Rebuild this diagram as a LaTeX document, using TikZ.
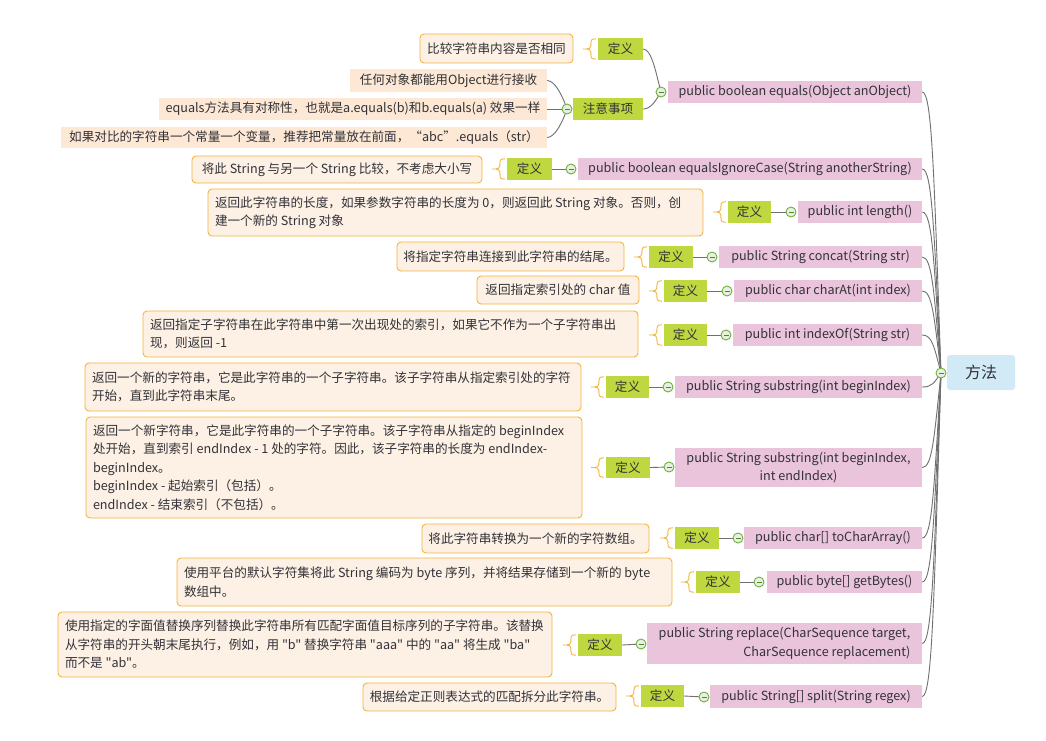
\documentclass[tikz,border=0pt]{standalone}
\usepackage{fontspec}
\setmainfont{Noto Sans CJK SC}[Ligatures=TeXOff]
\usetikzlibrary{calc}
\pgfdeclarelayer{bg}
\pgfsetlayers{bg,main}
\definecolor{methpink}{RGB}{234,196,219}
\definecolor{defgreen}{RGB}{191,216,64}
\definecolor{descfill}{RGB}{253,240,228}
\definecolor{descdraw}{RGB}{245,180,60}
\definecolor{notefill}{RGB}{252,232,212}
\definecolor{rootfill}{RGB}{210,234,246}
\definecolor{txt}{RGB}{50,50,56}
\definecolor{circgreen}{RGB}{110,176,60}
\definecolor{circfill}{RGB}{232,240,226}
\definecolor{lineg}{RGB}{112,112,112}
\tikzset{
 basetxt/.style={inner sep=0pt, text=txt, font=\fontsize{12.6}{18.5}\selectfont},
 meth/.style={basetxt, fill=methpink},
 defbox/.style={basetxt, fill=defgreen},
 desc/.style={basetxt, fill=descfill, draw=descdraw, rounded corners=4pt, line width=0.9pt},
 notebox/.style={basetxt, fill=notefill},
 rootbox/.style={basetxt, fill=rootfill, rounded corners=3pt, font=\fontsize{16}{20}\selectfont},
 minuscirc/.style={circle, draw=circgreen, line width=0.9pt, fill=circfill, minimum size=10pt, inner sep=0pt,
   path picture={\draw[circgreen!75!black, line width=1pt] ($(path picture bounding box.west)+(2.5,0)$) -- ($(path picture bounding box.east)+(-2.5,0)$);}},
 connline/.style={draw=lineg, line width=0.9pt},
 brc/.style={draw=descdraw, line width=0.9pt},
}
\newcommand\nbox[7]{\node[#1, minimum width={(#5-#3)*1pt}, minimum height={(#6-#4)*1pt}] (#2) at ({(#3+#5)/2},{(#4+#6)/2}) {#7};}
\newcommand\nboxl[7]{\pgfmathsetmacro\twid{#5-#3-14}\node[#1, align=flush left, text width=\twid pt, minimum width={(#5-#3)*1pt}, minimum height={(#6-#4)*1pt}] (#2) at ({(#3+#5)/2},{(#4+#6)/2}) {#7};}
\newcommand\ncirc[3]{\node[minuscirc] (#1) at (#2,#3) {};}
\newcommand\brcfor[1]{%
 \draw[brc] ($(#1.north west)+(-2,1)$) .. controls +(-5,0) and +(0,-3) .. ($(#1.north west)+(-7,6)$) -- ($(#1.west)+(-7,-3)$) .. controls +(0,2) and +(2,0) .. ($(#1.west)+(-11,0)$) -- ($(#1.west)+(-15,0)$);
 \draw[brc] ($(#1.west)+(-11,0)$) .. controls +(2,0) and +(0,-2) .. ($(#1.west)+(-7,3)$) -- ($(#1.south west)+(-7,-6)$) .. controls +(0,3) and +(-5,0) .. ($(#1.south west)+(-2,-1)$);
}
\begin{document}
\begin{tikzpicture}[x=1pt,y=-1pt]
\begin{pgfonlayer}{bg}
\fill[white] (0,0) rectangle (1046,740);
\end{pgfonlayer}
\useasboundingbox (0,0) rectangle (1046,740);
% root
\nbox{rootbox}{root}{947}{355}{1015}{390}{方法}
\ncirc{rc}{941}{373}
% methods
\nbox{meth}{m1}{668}{81}{922}{103}{public boolean equals(Object anObject)}
\nbox{meth}{m2}{578}{158}{922}{180}{public boolean equalsIgnoreCase(String anotherString)}
\nbox{meth}{m3}{798}{201}{922}{223}{public int length()}
\nbox{meth}{m4}{719}{246}{922}{268}{public String concat(String str)}
\nbox{meth}{m5}{734}{280}{922}{302}{public char charAt(int index)}
\nbox{meth}{m6}{733}{324}{922}{346}{public int indexOf(String str)}
\nbox{meth}{m7}{675}{376}{922}{398}{public String substring(int beginIndex)}
\nbox{meth,align=center}{m8}{675}{448}{922}{487}{public String substring(int beginIndex,\\ int endIndex)}
\nbox{meth}{m9}{744}{527}{922}{549}{public char[] toCharArray()}
\nbox{meth}{m10}{767}{571}{922}{593}{public byte[] getBytes()}
\nbox{meth,align=right}{m11}{647}{623}{922}{664}{public String replace(CharSequence target,\\CharSequence replacement)}
\nbox{meth}{m12}{710}{685}{922}{708}{public String[] split(String regex)}
% circles
\ncirc{c1}{661}{92}
\ncirc{cn}{567}{109}
\ncirc{c2}{571}{169}
\ncirc{c3}{791}{212}
\ncirc{c4}{712}{257}
\ncirc{c5}{727}{291}
\ncirc{c6}{726}{335}
\ncirc{c7}{668}{387}
\ncirc{c8}{669}{467}
\ncirc{c9}{738}{538}
\ncirc{c10}{759}{582}
\ncirc{c11}{641}{644}
\ncirc{c12}{704}{697}
% definition boxes
\nbox{defbox}{d1}{598}{38}{643}{60}{定义}
\nbox{defbox}{dn}{573}{98}{643}{120}{注意事项}
\nbox{defbox}{d2}{507}{158}{552}{180}{定义}
\nbox{defbox}{d3}{728}{201}{771}{223}{定义}
\nbox{defbox}{d4}{649}{246}{693}{268}{定义}
\nbox{defbox}{d5}{664}{280}{707}{302}{定义}
\nbox{defbox}{d6}{664}{324}{707}{346}{定义}
\nbox{defbox}{d7}{606}{376}{649}{398}{定义}
\nbox{defbox}{d8}{606}{457}{650}{478}{定义}
\nbox{defbox}{d9}{675}{527}{719}{549}{定义}
\nbox{defbox}{d10}{696}{571}{740}{593}{定义}
\nbox{defbox}{d11}{578}{634}{622}{656}{定义}
\nbox{defbox}{d12}{641}{685}{684}{707}{定义}
% notes
\nbox{notebox}{n1}{350}{69}{547}{92}{任何对象都能用Object进行接收}
\nbox{notebox}{n2}{159}{98}{547}{120}{equals方法具有对称性，也就是a.equals(b)和b.equals(a) 效果一样}
\nbox{notebox}{n3}{61}{127}{547}{148}{如果对比的字符串一个常量一个变量，推荐把常量放在前面，“abc”.equals（str）}
% descriptions
\nbox{desc}{e1}{420}{34}{573}{63}{比较字符串内容是否相同}
\nbox{desc}{e2}{192}{156}{482}{183}{将此 String 与另一个 String 比较，不考虑大小写}
\nboxl{desc}{e3}{208}{189}{703}{236}{返回此字符串的长度，如果参数字符串的长度为 0，则返回此 String 对象。否则，创\\建一个新的 String 对象}
\nbox{desc}{e4}{397}{242}{624}{271}{将指定字符串连接到此字符串的结尾。}
\nbox{desc}{e5}{477}{276}{639}{304}{返回指定索引处的 char 值}
\nboxl{desc}{e6}{143}{311}{638}{357}{返回指定子字符串在此字符串中第一次出现处的索引，如果它不作为一个子字符串出\\现，则返回 -1}
\nboxl{desc}{e7}{85}{363}{581}{411}{返回一个新的字符串，它是此字符串的一个子字符串。该子字符串从指定索引处的字符\\开始，直到此字符串末尾。}
\nboxl{desc}{e8}{86}{417}{582}{518}{返回一个新字符串，它是此字符串的一个子字符串。该子字符串从指定的 beginIndex\\处开始，直到索引 endIndex - 1 处的字符。因此，该子字符串的长度为 endIndex-\\beginIndex。\\beginIndex - 起始索引（包括）。\\endIndex - 结束索引（不包括）。}
\nbox{desc}{e9}{422}{524}{649}{553}{将此字符串转换为一个新的字符数组。}
\nboxl{desc}{e10}{177}{558}{672}{606}{使用平台的默认字符集将此 String 编码为 byte 序列，并将结果存储到一个新的 byte\\数组中。}
\nboxl{desc}{e11}{58}{612}{552}{677}{使用指定的字面值替换序列替换此字符串所有匹配字面值目标序列的子字符串。该替换\\从字符串的开头朝末尾执行，例如，用 "b" 替换字符串 "aaa" 中的 "aa" 将生成 "ba"\\而不是 "ab"。}
\nbox{desc}{e12}{363}{683}{616}{711}{根据给定正则表达式的匹配拆分此字符串。}
% braces
\foreach \d in {d1,d2,d3,d4,d5,d6,d7,d8,d9,d10,d11,d12}{\brcfor{\d}}
% connectors
\begin{pgfonlayer}{bg}
\foreach \m/\yy in {m1/92,m2/169,m3/212,m4/257,m5/291,m6/335,m7/387,m8/467,m9/538,m10/582,m11/644,m12/697}{
  \draw[connline] (\m.east) .. controls +(10,0) and +(-7,{0.7*(\yy-373)}) .. (rc.center);
}
\foreach \i in {2,...,12}{
  \draw[connline] (d\i.east) -- (c\i.center);
}
\draw[connline] (d1.east) .. controls +(9,0) and +(-4,-14) .. (c1.center);
\draw[connline] (dn.east) .. controls +(8,0) and +(-5,8) .. (c1.center);
\draw[connline] (n1.east) .. controls +(8,0) and +(-4,-12) .. (cn.center);
\draw[connline] (n2.east) -- (cn.center);
\draw[connline] (n3.east) .. controls +(8,0) and +(-4,12) .. (cn.center);
\end{pgfonlayer}
\end{tikzpicture}
\end{document}
